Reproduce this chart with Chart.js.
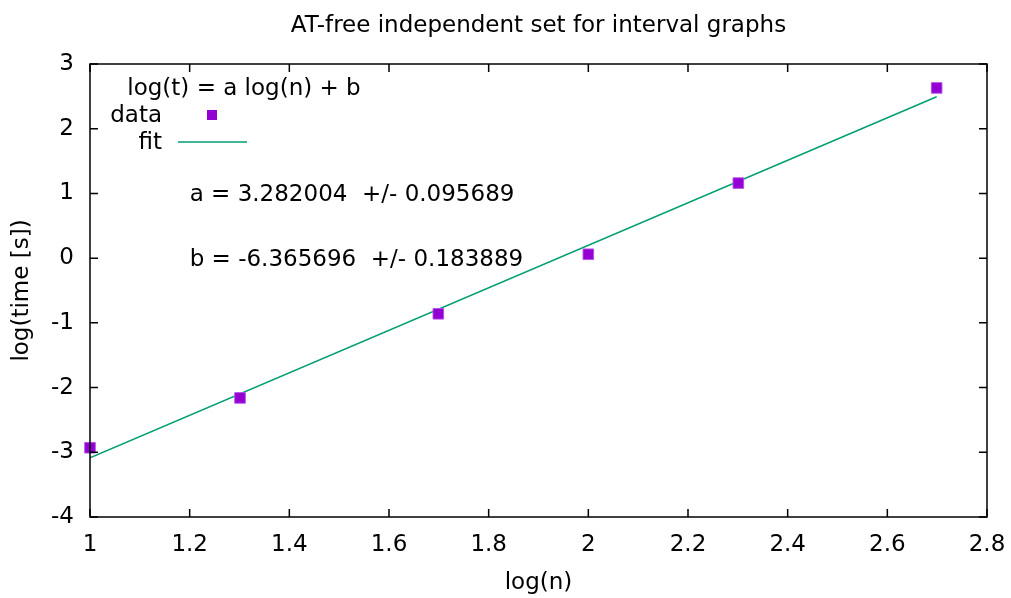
<!DOCTYPE html>
<html>
<head>
<meta charset="utf-8">
<script src="https://cdn.jsdelivr.net/npm/chart.js@4.4.1/dist/chart.umd.min.js"></script>
<style>
  html, body { margin: 0; padding: 0; background: #fff; }
  #wrap { width: 1011px; height: 598px; }
</style>
</head>
<body>
<div id="wrap"><canvas id="c" width="1011" height="598"></canvas></div>
<script>
const chartTitle = "AT-free independent set for interval graphs";
const xTitle = "log(n)";
const yTitle = "log(time [s])";
const keyTitle = "log(t) = a log(n) + b";
const seriesNames = ["data", "fit"];
const logN = [1, 1.30103, 1.69897, 2, 2.30103, 2.69897];
const logTime = [-2.93, -2.16, -0.86, 0.06, 1.16, 2.63];
const fitX = [1, 2.69897];
const fitY = [-3.084, 2.493];
const fitLabels = ["a = 3.282004  +/- 0.095689", "b = -6.365696  +/- 0.183889"];
const fitLabelX = [1.2, 1.2];
const fitLabelY = [1, 0];
const xTicks = [1, 1.2, 1.4, 1.6, 1.8, 2, 2.2, 2.4, 2.6, 2.8];
const yTicks = [-4, -3, -2, -1, 0, 1, 2, 3];

const FONT = "'DejaVu Sans', sans-serif";
const FS = 23;
const purple = "#9400d3";
const green = "#009e73";

const gnuplotPlugin = {
  id: 'gnuplot',
  afterDatasetsDraw(chart) {
    const ctx = chart.ctx;
    const a = chart.chartArea;
    const xs = chart.scales.x, ys = chart.scales.y;
    ctx.save();
    ctx.strokeStyle = '#000';
    ctx.lineWidth = 1.5;
    ctx.strokeRect(a.left, a.top, a.right - a.left, a.bottom - a.top);
    const tl = 8;
    ctx.beginPath();
    xTicks.forEach(v => {
      const px = xs.getPixelForValue(v);
      ctx.moveTo(px, a.bottom); ctx.lineTo(px, a.bottom - tl);
      ctx.moveTo(px, a.top); ctx.lineTo(px, a.top + tl);
    });
    yTicks.forEach(v => {
      const py = ys.getPixelForValue(v);
      ctx.moveTo(a.left, py); ctx.lineTo(a.left + tl, py);
      ctx.moveTo(a.right, py); ctx.lineTo(a.right - tl, py);
    });
    ctx.stroke();
    ctx.fillStyle = '#000';
    ctx.font = FS + "px " + FONT;
    ctx.textBaseline = 'middle';
    ctx.textAlign = 'center';
    ctx.fillText(chartTitle, (a.left + a.right) / 2, 26);
    ctx.textAlign = 'left';
    fitLabels.forEach((t, i) => {
      ctx.fillText(t, xs.getPixelForValue(fitLabelX[i]), ys.getPixelForValue(fitLabelY[i]) + 1.5);
    });
    ctx.textAlign = 'center';
    ctx.fillText(keyTitle, 244, 89);
    ctx.textAlign = 'right';
    const ds = chart.data.datasets;
    ctx.fillText(ds[0].label, 162, 116);
    ctx.fillText(ds[1].label, 162, 143);
    ctx.fillStyle = purple;
    ctx.fillRect(207, 110, 10, 10);
    ctx.strokeStyle = green;
    ctx.lineWidth = 1.5;
    ctx.beginPath();
    ctx.moveTo(178, 142); ctx.lineTo(247, 142);
    ctx.stroke();
    ctx.restore();
  }
};

new Chart(document.getElementById('c'), {
  type: 'scatter',
  data: {
    datasets: [
      {
        label: seriesNames[0],
        data: logN.map((x, i) => ({x, y: logTime[i]})),
        pointStyle: 'rect',
        pointRadius: 7.5,
        pointHoverRadius: 7.5,
        backgroundColor: purple,
        borderColor: 'rgba(180,80,230,0.9)',
        borderWidth: 1,
        showLine: false,
        clip: false,
        order: 0
      },
      {
        label: seriesNames[1],
        data: fitX.map((x, i) => ({x, y: fitY[i]})),
        showLine: true,
        pointRadius: 0,
        borderColor: green,
        borderWidth: 1.5,
        fill: false,
        order: 1
      }
    ]
  },
  options: {
    responsive: false,
    animation: false,
    devicePixelRatio: 1,
    layout: { padding: { left: 0, right: 24, top: 64, bottom: 0 } },
    plugins: {
      legend: { display: false },
      tooltip: { enabled: false },
      title: { display: false }
    },
    scales: {
      x: {
        type: 'linear',
        min: 1, max: 2.8,
        afterBuildTicks: s => { s.ticks = xTicks.map(v => ({value: v})); },
        afterFit: s => { s.height = 81; s.paddingLeft = 0; s.paddingRight = 0; },
        grid: { display: false, drawTicks: false },
        border: { display: false },
        ticks: {
          color: '#000',
          padding: 14,
          maxRotation: 0,
          autoSkip: false,
          font: { family: FONT, size: FS, lineHeight: 1.2 },
          callback: v => String(Math.round(v * 10) / 10)
        },
        title: {
          display: true, text: xTitle, color: '#000',
          font: { family: FONT, size: FS, lineHeight: 1.2 },
          padding: { top: 0, bottom: 1 }
        }
      },
      y: {
        type: 'linear',
        min: -4, max: 3,
        afterBuildTicks: s => { s.ticks = yTicks.map(v => ({value: v})); },
        afterFit: s => { s.width = 90; s.paddingTop = 0; s.paddingBottom = 0; },
        grid: { display: false, drawTicks: false },
        border: { display: false },
        ticks: {
          color: '#000',
          padding: 16,
          autoSkip: false,
          font: { family: FONT, size: FS, lineHeight: 1.2 },
          callback: v => String(v)
        },
        title: {
          display: true, text: yTitle, color: '#000',
          font: { family: FONT, size: FS, lineHeight: 1.2 },
          padding: { top: 8, bottom: 0 }
        }
      }
    }
  },
  plugins: [gnuplotPlugin]
});
</script>
</body>
</html>
